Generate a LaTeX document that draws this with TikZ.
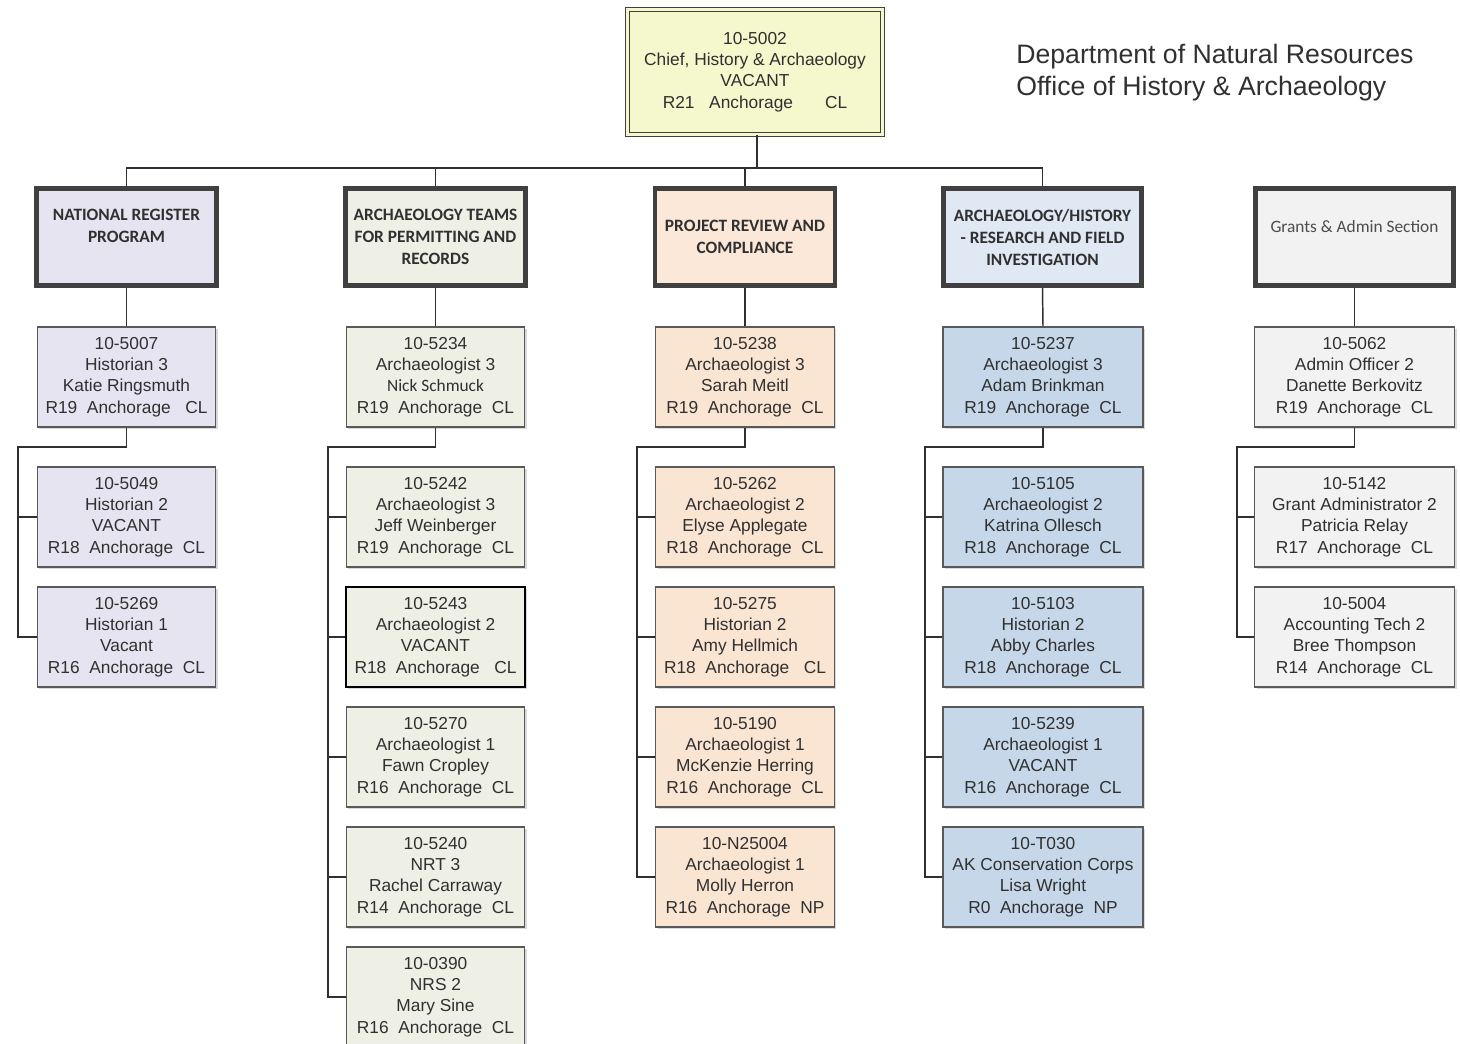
\documentclass[tikz,border=0pt]{standalone}
\usepackage{fontspec}
\setmainfont{Liberation Sans}
\newfontfamily\calibri{Carlito}
\usepackage{tikz}
\usetikzlibrary{calc,shadows}
\definecolor{chieffill}{HTML}{F5F7CC}
\definecolor{lavfill}{HTML}{E6E4F0}
\definecolor{sagefill}{HTML}{EEF0E6}
\definecolor{peachhead}{HTML}{FBE8D9}
\definecolor{peachfill}{HTML}{FAE5D3}
\definecolor{bluehead}{HTML}{DFE8F3}
\definecolor{bluefill}{HTML}{C6D7E9}
\definecolor{greyfill}{HTML}{F2F2F2}
\definecolor{inkgrey}{HTML}{303030}

\begin{document}
\begin{tikzpicture}[x=0.75pt,y=0.75pt,yscale=-1,xscale=1,
  conn/.style={draw=inkgrey, line width=1.1pt},
  posbox/.style={draw=black!65, line width=0.8pt, minimum width=134pt, minimum height=75pt,
    inner sep=0pt, align=center, text=inkgrey, font=\fontsize{13}{16.1}\selectfont,
    drop shadow={shadow xshift=1.5pt, shadow yshift=-1.5pt, opacity=.3}},
  widebox/.style={posbox, minimum width=150pt},
  headbox/.style={draw=black!75, line width=3.6pt, minimum width=135pt, minimum height=73pt,
    inner sep=0pt, align=center, text=inkgrey, font=\calibri\bfseries\fontsize{13}{16.5}\selectfont,
    drop shadow={shadow xshift=1.5pt, shadow yshift=-1.5pt, opacity=.3}},
  widehead/.style={headbox, minimum width=149pt}
  ]
\useasboundingbox (0,0) rectangle (1460,1044);

%Chief box
\node [posbox, fill=chieffill, draw=black!75, line width=0.9pt, double=chieffill, double distance=1.8pt,
  minimum width=191pt, minimum height=94pt] (chief) at (755,72)
  {10-5002\\Chief, History \& Archaeology\\VACANT\\R21\hspace{11pt}Anchorage\hspace{24pt}CL};

% Title
\node [anchor=west, align=left, text=inkgrey, font=\fontsize{20}{24}\selectfont, inner sep=0pt] (title) at (1016,73)
  {Department of Natural Resources\\Office of History \& Archaeology};

% Section heads
\node [headbox, fill=lavfill] (nrhead) at (126.5,237) {NATIONAL REGISTER\\PROGRAM\\\mbox{}};
\node [headbox, fill=sagefill] (archead) at (435.5,237) {ARCHAEOLOGY TEAMS\\FOR PERMITTING AND\\RECORDS};
\node [headbox, fill=peachhead] (prchead) at (745,237) {PROJECT REVIEW AND\\COMPLIANCE};
\node [widehead, fill=bluehead] (reshead) at (1042.5,237) {ARCHAEOLOGY/HISTORY\\- RESEARCH AND FIELD\\INVESTIGATION};
\node [widehead, fill=greyfill, font=\calibri\fontsize{13}{16.5}\selectfont, text=black!70] (admhead) at (1354.5,237)
  {Grants \& Admin Section\\\mbox{}};

% National register
\node [posbox, fill=lavfill] (nr1) at (126.5,377) {10-5007\\Historian 3\\Katie Ringsmuth\\R19~~Anchorage~~~CL};
\node [posbox, fill=lavfill] (nr2) at (126.5,517) {10-5049\\Historian 2\\VACANT\\R18~~Anchorage~~CL};
\node [posbox, fill=lavfill] (nr3) at (126.5,637) {10-5269\\Historian 1\\Vacant\\R16~~Anchorage~~CL};

% Archaeology teams
\node [posbox, fill=sagefill] (arc1) at (435.5,377) {10-5234\\Archaeologist 3\\{\calibri Nick Schmuck}\\R19~~Anchorage~~CL};
\node [posbox, fill=sagefill] (arc2) at (435.5,517) {10-5242\\Archaeologist 3\\Jeff Weinberger\\R19~~Anchorage~~CL};
\node [posbox, fill=sagefill, draw=black, line width=1.1pt] (arc3) at (435.5,637) {10-5243\\Archaeologist 2\\VACANT\\R18~~Anchorage~~~CL};
\node [posbox, fill=sagefill] (arc4) at (435.5,757) {10-5270\\Archaeologist 1\\Fawn Cropley\\R16~~Anchorage~~CL};
\node [posbox, fill=sagefill] (arc5) at (435.5,877) {10-5240\\NRT 3\\Rachel Carraway\\R14~~Anchorage~~CL};
\node [posbox, fill=sagefill] (arc6) at (435.5,997) {10-0390\\NRS 2\\Mary Sine\\R16~~Anchorage~~CL};

% Project review
\node [posbox, fill=peachfill] (prc1) at (745,377) {10-5238\\Archaeologist 3\\Sarah Meitl\\R19~~Anchorage~~CL};
\node [posbox, fill=peachfill] (prc2) at (745,517) {10-5262\\Archaeologist 2\\Elyse Applegate\\R18~~Anchorage~~CL};
\node [posbox, fill=peachfill] (prc3) at (745,637) {10-5275\\Historian 2\\Amy Hellmich\\R18~~Anchorage~~~CL};
\node [posbox, fill=peachfill] (prc4) at (745,757) {10-5190\\Archaeologist 1\\McKenzie Herring\\R16~~Anchorage~~CL};
\node [posbox, fill=peachfill] (prc5) at (745,877) {10-N25004\\Archaeologist 1\\Molly Herron\\R16~~Anchorage~~NP};

% Research and field
\node [widebox, fill=bluefill] (res1) at (1043,377) {10-5237\\Archaeologist 3\\Adam Brinkman\\R19~~Anchorage~~CL};
\node [widebox, fill=bluefill] (res2) at (1043,517) {10-5105\\Archaeologist 2\\Katrina Ollesch\\R18~~Anchorage~~CL};
\node [widebox, fill=bluefill] (res3) at (1043,637) {10-5103\\Historian 2\\Abby Charles\\R18~~Anchorage~~CL};
\node [widebox, fill=bluefill] (res4) at (1043,757) {10-5239\\Archaeologist 1\\VACANT\\R16~~Anchorage~~CL};
\node [widebox, fill=bluefill] (res5) at (1043,877) {10-T030\\AK Conservation Corps\\Lisa Wright\\R0~~Anchorage~~NP};

% Grants and admin
\node [widebox, fill=greyfill] (adm1) at (1354.5,377) {10-5062\\Admin Officer 2\\Danette Berkovitz\\R19~~Anchorage~~CL};
\node [widebox, fill=greyfill] (adm2) at (1354.5,517) {10-5142\\Grant Administrator 2\\Patricia Relay\\R17~~Anchorage~~CL};
\node [widebox, fill=greyfill] (adm3) at (1354.5,637) {10-5004\\Accounting Tech 2\\Bree Thompson\\R14~~Anchorage~~CL};

% Top bus
\coordinate (bus) at (757,168);
\draw [conn] (chief.south -| bus) -- (bus);
\draw [conn] (nrhead.north) |- (reshead.north |- bus) -- (reshead.north);
\draw [conn] (archead.north) -- (archead.north |- bus);
\draw [conn] (prchead.north) -- (prchead.north |- bus);

% Side rails
\coordinate (nrrail) at (18,447);
\coordinate (arcrail) at (328,447);
\coordinate (prcrail) at (637,447);
\coordinate (resrail) at (925,447);
\coordinate (admrail) at (1237,447);

\draw [conn] (nrhead.south) -- (nr1.north);
\draw [conn] (nr1.south) |- (nrrail) |- (nr3.west);
\draw [conn] (nrrail |- nr2.west) -- (nr2.west);

\draw [conn] (archead.south) -- (arc1.north);
\draw [conn] (arc1.south) |- (arcrail) |- (arc6.west);
\foreach \k in {2,3,4,5} \draw [conn] (arcrail |- arc\k.west) -- (arc\k.west);

\draw [conn] (prchead.south) -- (prc1.north);
\draw [conn] (prc1.south) |- (prcrail) |- (prc5.west);
\foreach \k in {2,3,4} \draw [conn] (prcrail |- prc\k.west) -- (prc\k.west);

\draw [conn] (reshead.south) -- (res1.north);
\draw [conn] (res1.south) |- (resrail) |- (res5.west);
\foreach \k in {2,3,4} \draw [conn] (resrail |- res\k.west) -- (res\k.west);

\draw [conn] (admhead.south) -- (adm1.north);
\draw [conn] (adm1.south) |- (admrail) |- (adm3.west);
\draw [conn] (admrail |- adm2.west) -- (adm2.west);
\end{tikzpicture}
\end{document}
